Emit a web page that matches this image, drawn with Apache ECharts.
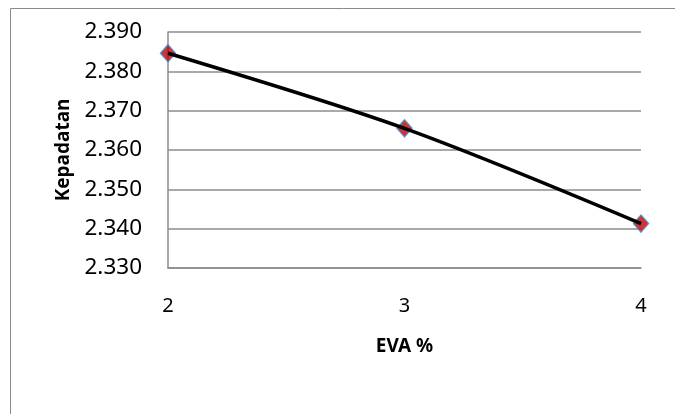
<!DOCTYPE html>
<html>
<head>
<meta charset="utf-8">
<script src="https://cdn.jsdelivr.net/npm/echarts@6/dist/echarts.min.js"></script>
<style>
  html, body { margin: 0; padding: 0; background: #fff; }
  #chart { width: 675px; height: 414px; }
</style>
</head>
<body>
<div id="chart"></div>
<script>
// EVA content (%) against density (Kepadatan)
const evaPercent = ['2', '3', '4'];
const kepadatan = [2.3846, 2.3655, 2.3413];
const yTicks = { min: 2.33, max: 2.39, step: 0.01 };

const font = '"Noto Sans", "Open Sans", sans-serif';
const gridGray = '#8c8c8c';

const chart = echarts.init(document.getElementById('chart'), null, { renderer: 'canvas' });

chart.setOption({
  backgroundColor: '#ffffff',
  animation: false,
  graphic: [{
    type: 'rect',
    shape: { x: 10.5, y: 8.5, width: 700, height: 500 },
    style: { fill: 'none', stroke: '#8a8a8a', lineWidth: 1 },
    silent: true
  }],
  grid: { left: 168, right: 34, top: 32, bottom: 146, containLabel: false },
  xAxis: {
    type: 'category',
    data: evaPercent,
    boundaryGap: false,
    name: 'EVA %',
    nameLocation: 'middle',
    nameGap: 69,
    nameTextStyle: { fontFamily: font, fontSize: 19, fontWeight: 'bold', color: '#000' },
    axisLine: { show: true, lineStyle: { color: gridGray, width: 1.5 } },
    axisTick: { show: false },
    splitLine: { show: false },
    axisLabel: { fontFamily: font, fontSize: 20, color: '#000', margin: 28 }
  },
  yAxis: {
    type: 'value',
    min: yTicks.min,
    max: yTicks.max,
    interval: yTicks.step,
    name: 'Kepadatan',
    nameLocation: 'middle',
    nameGap: 92,
    nameRotate: 90,
    nameTextStyle: { fontFamily: font, fontSize: 19, fontWeight: 'bold', color: '#000' },
    axisLine: { show: true, lineStyle: { color: gridGray, width: 1.5 } },
    axisTick: { show: false },
    splitLine: { show: true, lineStyle: { color: gridGray, width: 1.5 } },
    axisLabel: {
      fontFamily: font, fontSize: 22.5, color: '#000', margin: 26,
      formatter: v => v.toFixed(3)
    }
  },
  series: [
    {
      type: 'scatter',
      data: kepadatan,
      symbol: 'diamond',
      symbolSize: [15, 17],
      itemStyle: { color: '#c00000', borderColor: '#4f81bd', borderWidth: 1.5 },
      z: 2
    },
    {
      type: 'line',
      data: kepadatan,
      smooth: 0.3,
      showSymbol: false,
      lineStyle: { color: '#000', width: 3.5 },
      z: 3
    }
  ]
});
</script>
</body>
</html>
